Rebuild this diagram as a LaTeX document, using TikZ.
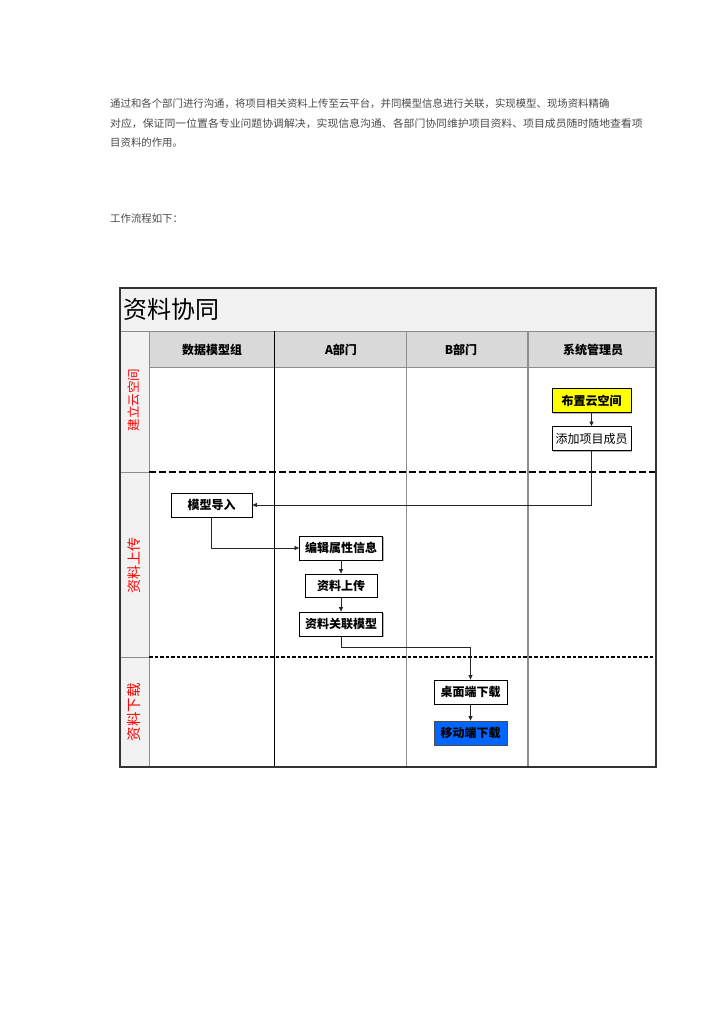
\documentclass[tikz,border=0pt]{standalone}
\usepackage{fontspec}
\setmainfont{Noto Sans CJK SC}
\usetikzlibrary{arrows.meta,shadows}
\definecolor{paratext}{HTML}{4A4A4A}
\definecolor{titlebg}{HTML}{F2F2F2}
\definecolor{headbg}{HTML}{D9D9D9}
\definecolor{gridgray}{HTML}{8C8C8C}
\definecolor{boxyellow}{HTML}{FFFF00}
\definecolor{boxblue}{HTML}{0066FF}
\definecolor{lanered}{HTML}{FF0000}
\begin{document}
\begin{tikzpicture}[x=1pt,y=-1pt,
  para/.style={anchor=west, inner sep=0pt, text=paratext, font=\fontsize{10.4}{12}\selectfont},
  box/.style={draw=black, line width=0.8pt, fill=white, minimum height=24pt, inner sep=0pt,
    font=\fontsize{12}{12}\selectfont\bfseries,
    drop shadow={shadow xshift=1.2pt, shadow yshift=-1.2pt, fill=gray!70, opacity=0.8}},
  conn/.style={draw=black!85, line width=0.7pt, -{Triangle[length=4.5pt,width=4pt]}},
  hdr/.style={inner sep=0pt, font=\fontsize{12}{12}\selectfont\bfseries},
  lanelbl/.style={inner sep=0pt, text=lanered, rotate=90},
  grid/.style={draw=gridgray, line width=0.8pt}
]
\path[use as bounding box, fill=white] (0,0) rectangle (724,1024);

% paragraph
\node[para] (p1) at (110,104) {通过和各个部门进行沟通，将项目相关资料上传至云平台，并同模型信息进行关联，实现模型、现场资料精确};
\node[para] (p2) at (110,124) {\scalebox{1.045}[1]{对应，保证同一位置各专业问题协调解决，实现信息沟通、各部门协同维护项目资料、项目成员随时随地查看项}};
\node[para] (p3) at (110,143) {目资料的作用。};
\node[para] (p4) at (110,219) {工作流程如下：};

% backgrounds
\fill[titlebg] (120,288) rectangle (656,331);
\fill[headbg] (149,331) rectangle (656,367);
\fill[titlebg] (120,331) rectangle (149,767);

% title
\node[anchor=west, inner sep=0pt, font=\fontsize{24}{24}\selectfont] (title) at (123,309) {资料协同};

% headers
\node[hdr] (h1) at (212,350) {数据模型组};
\node[hdr] (h2) at (341,350) {A部门};
\node[hdr] (h3) at (461,350) {B部门};
\node[hdr] (h4) at (593,350) {系统管理员};

% grid lines
\draw[grid] (120,331) -- (656,331);
\draw[grid] (149,367) -- (656,367);
\draw[grid] (149,331) -- (149,767);
\draw[draw=black, line width=0.9pt] (274,331) -- (274,767);
\draw[grid] (406,331) -- (406,767);
\draw[draw=gridgray, line width=1.4pt] (528,331) -- (528,767);
\draw[grid] (120,472) -- (149,472);
\draw[grid] (120,657) -- (149,657);
\draw[black, line width=1.8pt, dash pattern=on 6.5pt off 3.5pt] (149,472) -- (656,472);
\draw[black, line width=1.6pt, dash pattern=on 3.5pt off 2pt] (149,657) -- (656,657);
% outer frame
\draw[draw=black!80, line width=1.2pt] (120,288) rectangle (656,767);

% lane labels
\node[lanelbl, font=\fontsize{12.5}{12}\selectfont] (l1) at (134,400) {建立云空间};
\node[lanelbl, font=\fontsize{14}{14}\selectfont] (l2) at (134,565) {资料上传};
\node[lanelbl, font=\fontsize{14.5}{14}\selectfont] (l3) at (134,712) {资料下载};

% boxes
\node[box, fill=boxyellow, minimum width=79pt] (n1) at (591.5,400.5) {布置云空间};
\node[box, minimum width=79pt, font=\fontsize{12}{12}\selectfont] (n2) at (591.5,438.5) {添加项目成员};
\node[box, minimum width=81pt] (n3) at (211.5,505) {模型导入};
\node[box, minimum width=83pt] (n4) at (341,548) {编辑属性信息};
\node[box, minimum width=72pt, minimum height=23pt] (n5) at (341,585.5) {资料上传};
\node[box, minimum width=83pt] (n6) at (341,624) {资料关联模型};
\node[box, minimum width=73pt] (n7) at (470.5,692) {桌面端下载};
\node[box, fill=boxblue, draw=black!70, minimum width=73pt] (n8) at (470.5,733) {移动端下载};

% connectors
\coordinate (bend) at (470.5,647);
\draw[conn] (n1) -- (n2);
\draw[conn] (n2.south) |- (n3.east);
\draw[conn] (n3.south) |- (n4.west);
\draw[conn] (n4) -- (n5);
\draw[conn] (n5) -- (n6);
\draw[conn] (n6.south) |- (bend) -- (n7.north);
\draw[conn] (n7) -- (n8);
\end{tikzpicture}
\end{document}
